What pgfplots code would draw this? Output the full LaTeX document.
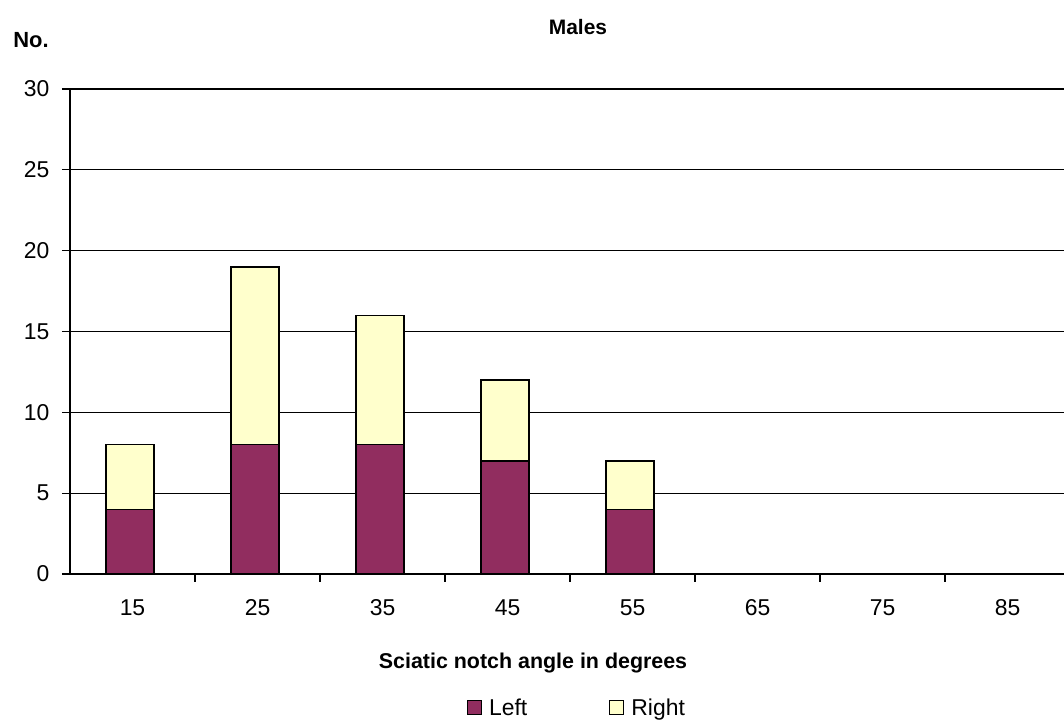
\documentclass[border=0pt]{standalone}
\usepackage{pgfplots}
\pgfplotsset{compat=1.18}
\usepackage{fontspec}
\setmainfont{Liberation Sans}
\definecolor{leftc}{RGB}{145,45,95}
\definecolor{rightc}{RGB}{255,255,204}
\begin{document}
\begin{tikzpicture}[x=1bp,y=1bp]
\useasboundingbox (0,0) rectangle (1064,727);
\begin{axis}[
  at={(70bp,153bp)}, anchor=south west,
  scale only axis, width=994bp, height=485bp,
  xmin=-0.5, xmax=7.452, ymin=0, ymax=30,
  ybar stacked, bar width=0.385, bar shift=-2.5bp,
  axis x line=bottom, axis y line=left,
  axis line style={-, black, line width=1.3bp},
  ymajorgrids, grid style={black, line width=1.3bp},
  ytick={0,5,...,30},
  xtick={0,...,7}, xticklabels={15,25,35,45,55,65,75,85},
  minor xtick={0.5,1.5,...,6.5},
  major x tick style={draw=none},
  tick align=outside, major tick length=8bp, minor tick length=8bp,
  tick style={black, line width=1.3bp},
  tick label style={font=\fontsize{23}{26}\selectfont},
  /pgf/number format/assume math mode=true,
  xticklabel style={yshift=-14bp},
  yticklabel style={xshift=-9bp},
  legend style={at={(0.51,-0.276)}, anchor=center, draw=none, fill=none,
    font=\fontsize{23}{26}\selectfont, legend columns=2,
    /tikz/every odd column/.append style={column sep=5bp},
    /tikz/every even column/.append style={column sep=80bp}},
  legend image code/.code={\draw[#1, line width=1.1bp] (0bp,-7bp) rectangle (14bp,7bp);},
]
\addplot[fill=leftc, draw=black, line width=1.5bp] coordinates {(0,4) (1,8) (2,8) (3,7) (4,4)};
\addplot[fill=rightc, draw=black, line width=1.5bp] coordinates {(0,4) (1,11) (2,8) (3,5) (4,3)};
\legend{Left,Right}
\end{axis}
\node[font=\fontsize{21}{24}\selectfont\bfseries] at (578,700) {Males};
\node[font=\fontsize{22}{24}\selectfont\bfseries] at (31,687) {No.};
\node[font=\fontsize{21.5}{24}\selectfont\bfseries] at (533,64) {Sciatic notch angle in degrees};
\end{tikzpicture}
\end{document}
